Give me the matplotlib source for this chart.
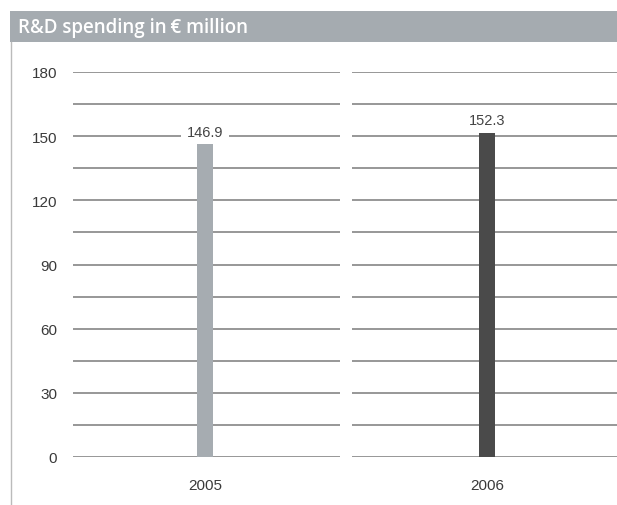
import matplotlib
import matplotlib.pyplot as plt
from matplotlib.patches import Rectangle
from matplotlib.lines import Line2D
matplotlib.use('Agg')

# data
years = ["2005", "2006"]
spending = [146.9, 152.3]
bar_colors = ['#a6acb1', '#4a4a4a']
y_ticks = [0, 30, 60, 90, 120, 150, 180]
grid_levels = [i * 15 for i in range(13)]
title_text = "R&D spending in\u2009€ million"

plt.rcParams['font.family'] = ['Liberation Sans', 'DejaVu Sans']

W, H = 617, 506
fig = plt.figure(figsize=(W / 100, H / 100), dpi=100)

# axes area in pixels: x 73..617, y 73(top=180)..458(bottom=0)
ax = fig.add_axes([73 / W, 1 - 458 / H, (617 - 73) / W, (458 - 73) / H])
ax.set_xlim(0, 2)
ax.set_ylim(0, 180)
for s in ax.spines.values():
    s.set_visible(False)

# gridlines, split in two panels
for g in grid_levels:
    ax.hlines(g, 0, 0.982, color='#858585', lw=1.2, zorder=1)
    ax.hlines(g, 1.026, 2, color='#858585', lw=1.2, zorder=1)

xpos = [0.485, 1.522]
ax.bar(xpos, spending, width=0.059, color=bar_colors, zorder=2)

for x, v in zip(xpos, spending):
    ax.text(x, v + 5.2, f"{v:.1f}", ha='center', va='center', fontsize=10.5,
            color='#444444', zorder=3,
            bbox=dict(facecolor='white', edgecolor='none', pad=4))

ax.set_yticks(y_ticks)
ax.set_yticklabels([str(t) for t in y_ticks], fontsize=11, color='#3a3a3a')
ax.tick_params(axis='y', length=0, pad=11.5)
ax.set_xticks(xpos)
ax.set_xticklabels(years, fontsize=11, color='#3a3a3a')
ax.tick_params(axis='x', length=0, pad=15)

# title bar
fig.patches.append(Rectangle((10 / W, 1 - 43 / H), (W - 10) / W, 31 / H,
                             transform=fig.transFigure, facecolor='#a5abb0',
                             edgecolor='none'))
fig.text(18 / W, 1 - 28 / H, title_text, ha='left', va='center', color='white',
         fontsize=13.5, fontweight='semibold', family=['Open Sans', 'DejaVu Sans'])

# left border line
fig.lines.append(Line2D([11 / W, 11 / W], [0, 1 - 43 / H], transform=fig.transFigure,
                        color='#bbbbbb', lw=1))

plt.savefig("out.png", dpi=100)
plt.close()
